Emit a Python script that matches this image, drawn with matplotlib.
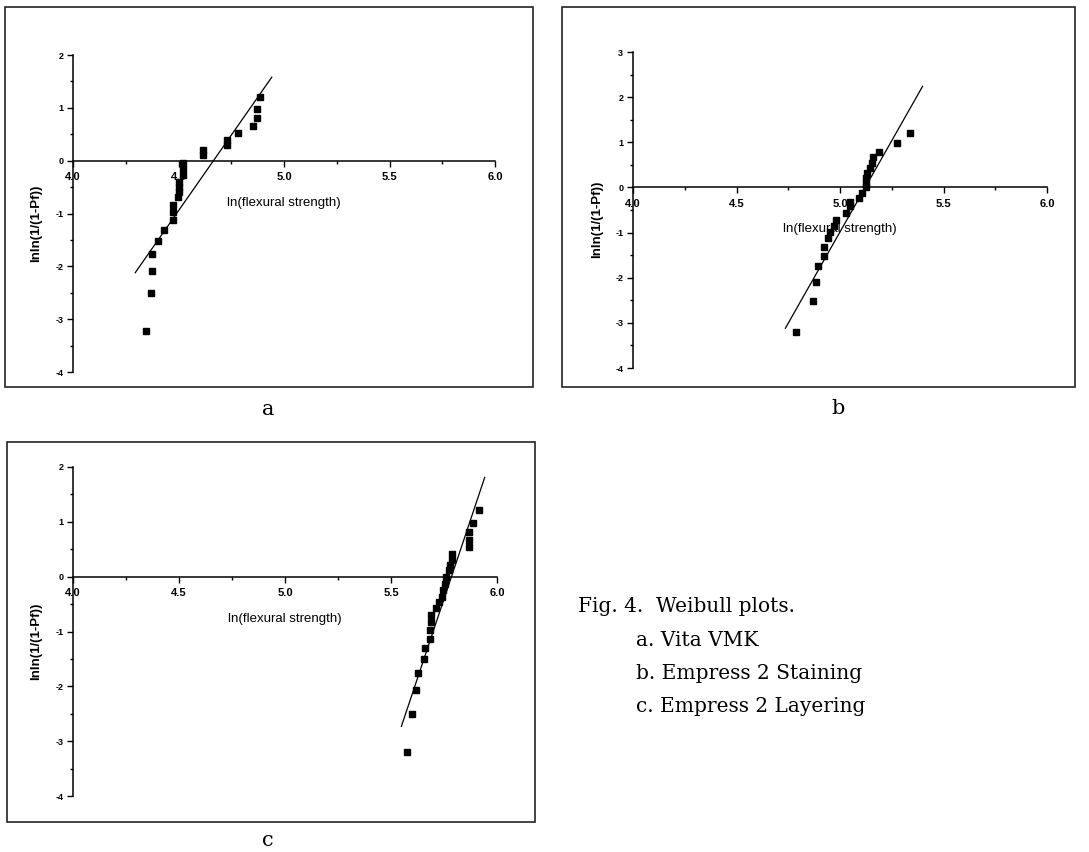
import matplotlib.pyplot as plt
from matplotlib.patches import Rectangle
from matplotlib.ticker import MultipleLocator

# data (x = ln(flexural strength), y = lnln(1/(1-Pf)))
a_x = [4.346, 4.368, 4.376, 4.376, 4.403, 4.431, 4.472, 4.472, 4.472, 4.497, 4.500, 4.500,
       4.502, 4.520, 4.520, 4.520, 4.617, 4.617, 4.732, 4.732, 4.780, 4.854, 4.871, 4.871, 4.887]
a_y = [-3.23, -2.51, -2.08, -1.76, -1.52, -1.32, -1.13, -0.98, -0.83, -0.69, -0.59, -0.49,
       -0.40, -0.27, -0.15, -0.05, 0.11, 0.20, 0.30, 0.40, 0.52, 0.66, 0.81, 0.97, 1.21]
a_fit_x = [4.295, 4.942]
a_fit_y = [-2.12, 1.58]

b_x = [4.787, 4.871, 4.882, 4.895, 4.921, 4.924, 4.940, 4.953, 4.969, 4.982, 5.031, 5.047,
       5.047, 5.090, 5.106, 5.127, 5.127, 5.127, 5.129, 5.143, 5.155, 5.158, 5.190, 5.275, 5.338]
b_y = [-3.21, -2.51, -2.10, -1.75, -1.53, -1.32, -1.13, -0.99, -0.85, -0.72, -0.57, -0.42,
       -0.33, -0.24, -0.13, 0.00, 0.10, 0.20, 0.32, 0.43, 0.55, 0.67, 0.79, 0.98, 1.20]
b_fit_x = [4.736, 5.399]
b_fit_y = [-3.12, 2.24]

c_x = [5.575, 5.597, 5.619, 5.627, 5.654, 5.660, 5.682, 5.686, 5.689, 5.689, 5.714, 5.726,
       5.739, 5.745, 5.755, 5.760, 5.774, 5.780, 5.786, 5.790, 5.867, 5.869, 5.867, 5.887, 5.913]
c_y = [-3.20, -2.50, -2.07, -1.76, -1.51, -1.31, -1.13, -0.98, -0.83, -0.69, -0.57, -0.46,
       -0.37, -0.25, -0.13, 0.00, 0.12, 0.21, 0.30, 0.41, 0.55, 0.67, 0.81, 0.98, 1.22]
c_fit_x = [5.549, 5.942]
c_fit_y = [-2.73, 1.81]

x_ticks = [4.0, 4.5, 5.0, 5.5, 6.0]
caption = ['Fig. 4.', 'Weibull plots.', 'a. Vita VMK', 'b. Empress 2 Staining', 'c. Empress 2 Layering']

W, H = 1089, 852
plt.rcParams.update({
    'font.family': ['Liberation Sans', 'DejaVu Sans'],
    'axes.unicode_minus': False,
    'savefig.dpi': 100,
    'figure.dpi': 100
})
fig = plt.figure(figsize=(W / 100, H / 100))


def px_rect(x0, y0, x1, y1):
    # pixel box (top-left origin) -> figure fraction
    return [x0 / W, 1 - y1 / H, (x1 - x0) / W, (y1 - y0) / H]


def panel(rect, frame, xs, ys, fx, fy, ylim, lbl_pos):
    # outer frame of the panel
    fr = px_rect(*frame)
    fig.patches.append(Rectangle((fr[0], fr[1]), fr[2], fr[3], transform=fig.transFigure,
                                 fill=False, edgecolor='#222222', linewidth=1.2))
    ax = fig.add_axes(px_rect(*rect))
    ax.plot(fx, fy, color='black', linewidth=0.9)
    ax.plot(xs, ys, linestyle='none', marker='s', markersize=5, color='black')
    ax.set_xlim(4.0, 6.0)
    ax.set_ylim(*ylim)
    ax.spines['top'].set_visible(False)
    ax.spines['right'].set_visible(False)
    ax.spines['bottom'].set_position(('data', 0))
    for s in ('left', 'bottom'):
        ax.spines[s].set_linewidth(1.1)
    ax.set_xticks(x_ticks)
    ax.set_xticklabels(['%.1f' % v for v in x_ticks])
    ax.xaxis.set_minor_locator(MultipleLocator(0.25))
    ax.yaxis.set_major_locator(MultipleLocator(1))
    ax.yaxis.set_minor_locator(MultipleLocator(0.5))
    ax.tick_params(axis='x', which='major', direction='out', length=4, width=1, pad=4.5,
                   labelsize=8)
    ax.tick_params(axis='x', which='minor', direction='out', length=2.5, width=1)
    ax.tick_params(axis='y', which='major', direction='out', length=4, width=1, pad=3,
                   labelsize=6.5)
    ax.tick_params(axis='y', which='minor', direction='out', length=2.5, width=1)
    for t in ax.get_xticklabels() + ax.get_yticklabels():
        t.set_fontweight('bold')
    ax.set_xlabel('ln(flexural strength)', fontsize=9.5)
    ax.xaxis.set_label_coords(0.5, lbl_pos)
    ax.set_ylabel('lnln(1/(1-Pf))', fontsize=9.5, fontweight='bold')
    ax.yaxis.set_label_coords(-0.072, 0.47)
    ax.patch.set_alpha(0)
    return ax


panel((73, 55, 495, 372), (5, 7, 533, 387), a_x, a_y, a_fit_x, a_fit_y, (-4, 2), 0.552)
panel((633, 52, 1047, 368), (562, 7, 1075, 387), b_x, b_y, b_fit_x, b_fit_y, (-4, 3), 0.459)
panel((73, 467, 497, 796), (7, 442, 535, 822), c_x, c_y, c_fit_x, c_fit_y, (-4, 2), 0.556)

# panel letters
serif = ['DejaVu Serif']
fig.text(268 / W, 1 - 410 / H, 'a', fontsize=15, family=serif, ha='center', va='center')
fig.text(838 / W, 1 - 408 / H, 'b', fontsize=15, family=serif, ha='center', va='center')
fig.text(268 / W, 1 - 840 / H, 'c', fontsize=15, family=serif, ha='center', va='center')

# figure caption
fig.text(578 / W, 1 - 607 / H, caption[0], fontsize=14.5, family=serif, va='center')
fig.text(656 / W, 1 - 607 / H, caption[1], fontsize=14.5, family=serif, va='center')
for i, line in enumerate(caption[2:]):
    fig.text(636 / W, 1 - (640 + 33.5 * i) / H, line, fontsize=14.5, family=serif, va='center')

plt.savefig('out.png')
